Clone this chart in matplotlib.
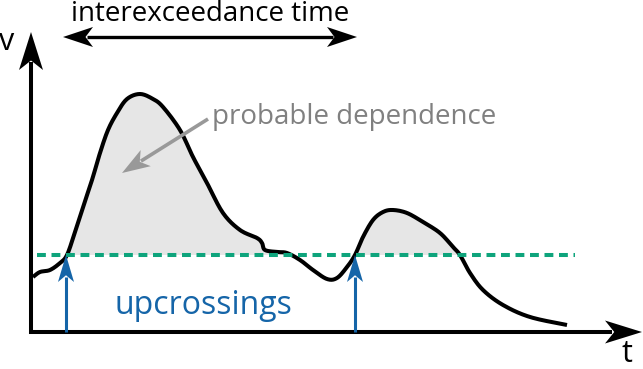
import matplotlib.pyplot as plt
from matplotlib.patches import Polygon
import numpy as np

# curve (t along, v up)
t = np.array([1, 8, 18, 28, 35, 43, 51, 60, 68, 76, 85, 95, 108, 121, 131, 148,
              161, 175, 191, 208, 225, 230, 233, 245, 255, 268, 281, 295, 305,
              315, 323, 331, 341, 351, 361, 375, 391, 408, 421, 428, 438, 451,
              471, 498, 535])
v = np.array([55, 60, 62, 69, 77, 100, 125, 152, 179, 202, 219, 233, 238, 233,
              225, 202, 175, 149, 119, 102, 94, 89, 82, 80, 79, 72, 62, 53, 54,
              65, 77, 95, 112, 120, 122, 119, 110, 99, 85, 77, 59, 42, 27, 15, 7])
threshold = 77
thr_span = [5, 543]
upcross_t = [34, 323]
span_t = [31, 325]


def smooth(x, y, n=12):
    # catmull-rom through the read points, just for a hand-drawn look
    p = np.column_stack([x, y]).astype(float)
    p = np.vstack([p[0], p, p[-1]])
    out = []
    s = np.linspace(0, 1, n, endpoint=False)[:, None]
    for i in range(1, len(p) - 2):
        p0, p1, p2, p3 = p[i - 1], p[i], p[i + 1], p[i + 2]
        b1 = p1 + (p2 - p0) / 6
        b2 = p2 - (p3 - p1) / 6
        out.append((1 - s)**3 * p1 + 3 * (1 - s)**2 * s * b1
                   + 3 * (1 - s) * s**2 * b2 + s**3 * p2)
    out.append(p[-2][None, :])
    out = np.vstack(out)
    return out[:, 0], out[:, 1]


def arrow(ax, tail, tip, color, lw, length, width, notch=0.25, both=False):
    # line plus a swept (stealth) head, sizes in pixels = data units here
    tail = np.array(tail, float)
    tip = np.array(tip, float)
    ends = [(tail, tip), (tip, tail)] if both else [(tail, tip)]
    a, b = tail.copy(), tip.copy()
    for start, end in ends:
        d = end - start
        d /= np.hypot(*d)
        nrm = np.array([-d[1], d[0]])
        back = end - d * length
        pts = [end, back + nrm * width / 2, end - d * length * (1 - notch),
               back - nrm * width / 2]
        ax.add_patch(Polygon(pts, closed=True, color=color, lw=0, zorder=6))
        if np.allclose(end, tip):
            b = end - d * length * 0.8
        else:
            a = end - d * length * 0.8
    ax.plot([a[0], b[0]], [a[1], b[1]], color=color, lw=lw,
            solid_capstyle='butt', zorder=5)


plt.rcParams['font.family'] = ['Open Sans', 'DejaVu Sans']

fig = plt.figure(figsize=(6.43, 3.69), dpi=100)
ax = fig.add_axes([0, 0, 1, 1])
ax.set_xlim(-32, 611)
ax.set_ylim(-37, 332)
ax.axis('off')

ts, vs = smooth(t, v)

# shaded exceedances
ax.fill_between(ts, vs, threshold, where=vs >= threshold, interpolate=True,
                color='#e6e6e6', lw=0, zorder=1)
ax.plot(ts, vs, color='black', lw=2.9, solid_joinstyle='round',
        solid_capstyle='butt', zorder=3)

# threshold
ax.plot(thr_span, [threshold, threshold], color='#0ea47c', lw=2.9,
        dashes=(2.2, 1.4), zorder=4)

# axes
arrow(ax, (-1, -2), (-1, 300), 'black', 2.9, 38, 24)
arrow(ax, (-3, 0), (610, 0), 'black', 2.9, 37, 23)

# upcrossing arrows
for tc in upcross_t:
    arrow(ax, (tc, 0), (tc, threshold), '#1565a8', 2.2, 27, 16)

# interexceedance span
arrow(ax, (span_t[0], 295), (span_t[1], 295), 'black', 2.4, 30, 20, both=True)

# dependence pointer
arrow(ax, (176, 213), (90, 159), '#999999', 2.6, 28, 19)

ax.text(-25, 282, 'v', fontsize=22, ha='center', va='baseline')
ax.text(595, -30, 't', fontsize=22, ha='center', va='baseline')
ax.text(178, 311, 'interexceedance time', fontsize=20, ha='center',
        va='baseline')
ax.text(180, 215, 'probable dependence', fontsize=20, ha='left', va='center',
        color='#808080')
ax.text(171, 27, 'upcrossings', fontsize=23, ha='center', va='center',
        color='#1565a8')

fig.savefig('out.png', dpi=100)
